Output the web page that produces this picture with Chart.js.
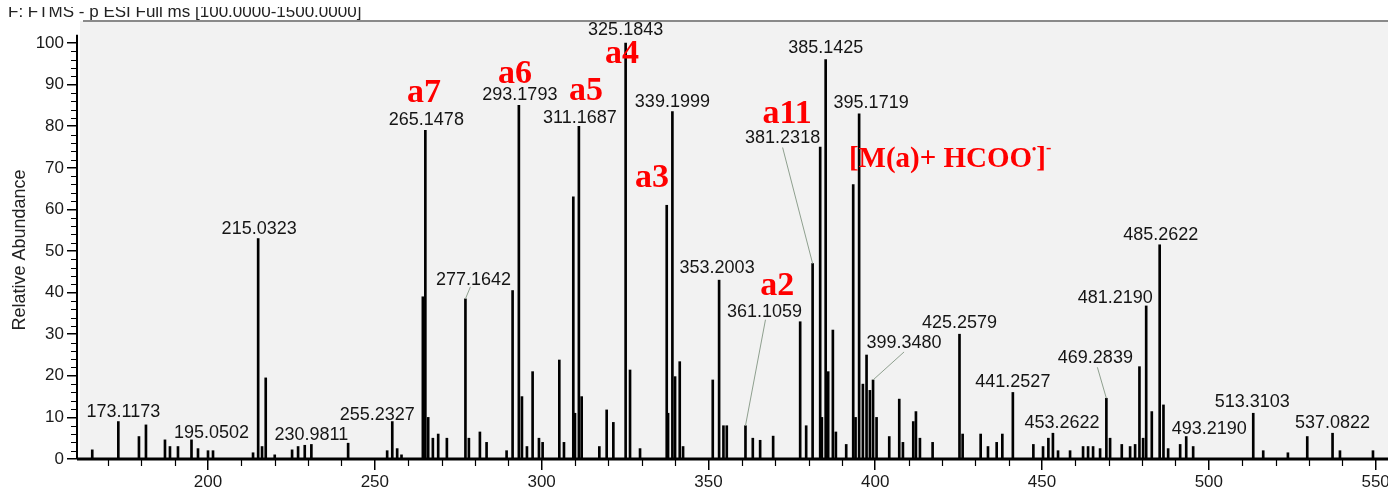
<!DOCTYPE html>
<html>
<head>
<meta charset="utf-8">
<script src="https://cdn.jsdelivr.net/npm/chart.js@4.4.0/dist/chart.umd.min.js"></script>
<style>
html, body { margin: 0; padding: 0; background: #fff; overflow: hidden; }
#wrap { width: 1400px; height: 491px; }
</style>
</head>
<body>
<div id="wrap"><canvas id="chart" width="1400" height="491"></canvas></div>
<script>
// m/z and relative abundance of every stick in the spectrum
const peakMz = [
  165.3, 173.1173, 179.3, 181.4, 187.1, 188.6, 191.0, 195.0502, 197.0, 200.0, 201.5, 213.5,
  215.0323, 216.2, 217.3, 220.0, 225.2, 227.0, 229.0, 230.9811, 242.0, 253.7, 255.2327, 256.7,
  258.0, 264.4, 265.1478, 266.0, 267.4, 269.0, 271.6, 277.1642, 278.2, 281.5, 283.5, 289.5,
  291.3, 293.1793, 294.1, 295.6, 297.3, 299.2, 300.3, 305.3, 306.7, 309.5, 310.0, 311.1687,
  312.0, 317.3, 319.5, 321.5, 325.1843, 326.5, 329.5, 337.5, 337.9, 339.1999, 340.0, 341.4,
  342.4, 351.3, 353.2003, 354.5, 355.5, 361.1059, 363.3, 365.5, 369.4, 377.5, 379.3, 381.2318,
  383.5, 384.0, 385.1425, 385.9, 387.3, 388.2, 391.3, 393.4, 394.1, 395.1719, 396.3, 397.4,
  398.4, 399.348, 400.4, 404.2, 407.2, 408.3, 411.4, 412.2, 413.4, 417.2, 425.2579, 426.2,
  431.6, 433.8, 436.4, 438.1, 441.2527, 447.4, 450.3, 451.9, 453.2622, 454.8, 458.4, 462.3,
  463.8, 465.3, 467.4, 469.2839, 470.4, 473.9, 476.4, 477.9, 479.2, 480.3, 481.219, 482.9,
  485.2622, 486.4, 487.8, 491.4, 493.219, 495.3, 513.3103, 516.3, 523.7, 529.5, 537.0822, 539.3,
  549.2
];
const peakInt = [
  2.2, 9, 5.4, 8.2, 4.6, 3, 3, 4.6, 2.5, 2, 2, 1.5,
  53, 3, 19.5, 1, 2.2, 3, 3.3, 3.5, 3.8, 2, 9, 2.5,
  1, 39, 79, 10, 5, 6, 5, 38.5, 5, 6.5, 4, 2,
  40.5, 85, 15, 3, 21, 5, 4, 23.8, 4, 63, 11, 80,
  15, 3, 11.8, 8.8, 100, 21.4, 2.5, 61, 11, 83.5, 19.8, 23.4,
  3, 19, 43, 8, 8, 8, 5, 4.5, 5.5, 33, 8, 47,
  75, 10, 96, 21, 31, 6.5, 3.5, 66, 10, 83, 18, 25,
  16.5, 19, 10, 5.4, 14.4, 4, 9, 11.4, 5, 4, 30, 6,
  6, 3, 4, 6, 16, 3.5, 3, 5, 6.2, 2, 2, 3,
  3, 3, 2.5, 14.6, 5, 3.5, 3, 3.5, 22.2, 5, 36.8, 11.4,
  51.5, 13, 2.5, 3.5, 5.4, 3, 11, 2, 1.5, 5.4, 6.2, 2,
  2
];

// peaks that carry an m/z label
const labelMz = [
  173.1173, 195.0502, 215.0323, 230.9811, 255.2327, 265.1478, 277.1642, 293.1793, 311.1687,
  325.1843, 339.1999, 353.2003, 361.1059, 381.2318, 385.1425, 395.1719, 399.348, 425.2579,
  441.2527, 453.2622, 469.2839, 481.219, 485.2622, 493.219, 513.3103, 537.0822
];

// axis ticks
const xTicks = [200, 250, 300, 350, 400, 450, 500, 550];
const yTicks = [0, 10, 20, 30, 40, 50, 60, 70, 80, 90, 100];

// fragment annotations (red), placed in m/z / abundance units
const annoText = ['a7', 'a6', 'a5', 'a4', 'a3', 'a11', 'a2'];
const annoMz = [264.75, 292.0, 313.3, 324.1, 333.1, 373.6, 370.6];
const annoInt = [85.8, 90.4, 86.3, 95.2, 65.4, 80.8, 39.4];

// label placement: [dx, dy] of text (center, baseline) from the peak top, optional leader start
const labelLayout = {
  173.1173: [5, -5], 195.0502: [20, -2], 215.0323: [1, -5], 230.9811: [0, -4],
  255.2327: [-15, -2], 265.1478: [1, -5], 277.1642: [8, -14, -3, 2], 293.1793: [1, -5],
  311.1687: [1, -3], 325.1843: [0, -8], 339.1999: [0, -5], 353.2003: [-2, -7],
  361.1059: [19, -109, 1, 3], 381.2318: [-30, -121, 0, 5], 385.1425: [0, -7],
  395.1719: [12, -6], 399.348: [31, -32, 0, 4], 425.2579: [0, -6], 441.2527: [0, -5],
  453.2622: [9, -5], 469.2839: [-11, -35, 2, 4], 481.219: [-31, -3], 485.2622: [1, -5],
  493.219: [23, -3], 513.3103: [-1, -6], 537.0822: [0, -5]
};

const SANS = '"Liberation Sans", Arial, sans-serif';
const SERIF = '"Liberation Serif", "Times New Roman", serif';

const decor = {
  id: 'decor',
  beforeDraw(chart) {
    const { ctx, chartArea: a } = chart;
    ctx.save();
    ctx.fillStyle = '#fff';
    ctx.fillRect(0, 0, chart.width, chart.height);
    ctx.fillStyle = '#f2f2f2';
    ctx.fillRect(a.left + 3, a.top, a.right - a.left, a.bottom - a.top);
    ctx.restore();
  },
  afterDraw(chart) {
    const { ctx, chartArea: a } = chart;
    const xs = chart.scales.x, ys = chart.scales.y;
    ctx.save();

    // frame line at top and run title
    ctx.strokeStyle = '#8a8a8a';
    ctx.lineWidth = 2;
    ctx.beginPath(); ctx.moveTo(83, a.top); ctx.lineTo(a.right, a.top); ctx.stroke();
    ctx.fillStyle = '#222';
    ctx.font = '17px ' + SANS;
    ctx.textAlign = 'left';
    ctx.fillText('F: FTMS - p ESI Full ms [100.0000-1500.0000]', 8, 17);
    ctx.fillStyle = '#fff';
    ctx.fillRect(0, 0, a.right, 7);

    // axes
    ctx.strokeStyle = '#000';
    ctx.lineWidth = 2;
    ctx.beginPath();
    ctx.moveTo(a.left, ys.getPixelForValue(102));
    ctx.lineTo(a.left, a.bottom);
    ctx.stroke();
    ctx.lineWidth = 3;
    ctx.beginPath(); ctx.moveTo(a.left, a.bottom); ctx.lineTo(a.right, a.bottom); ctx.stroke();

    // minor ticks
    ctx.lineWidth = 1.2;
    ctx.beginPath();
    for (let v = 2; v < 100; v += 2) {
      if (v % 10 === 0) continue;
      const py = Math.round(ys.getPixelForValue(v)) + 0.5;
      ctx.moveTo(a.left - 6, py); ctx.lineTo(a.left, py);
    }
    for (let v = 170; v < 560; v += 10) {
      if (v % 50 === 0) continue;
      const px = Math.round(xs.getPixelForValue(v)) + 0.5;
      ctx.moveTo(px, a.bottom); ctx.lineTo(px, a.bottom + 7);
    }
    ctx.stroke();

    // y title
    ctx.save();
    ctx.translate(20, 250);
    ctx.rotate(-Math.PI / 2);
    ctx.fillStyle = '#222';
    ctx.font = '18px ' + SANS;
    ctx.textAlign = 'center';
    ctx.textBaseline = 'middle';
    ctx.fillText('Relative Abundance', 0, 0);
    ctx.restore();

    // peak labels
    ctx.font = '18px ' + SANS;
    ctx.textAlign = 'center';
    ctx.textBaseline = 'alphabetic';
    labelMz.forEach(m => {
      const i = peakMz.indexOf(m);
      const px = xs.getPixelForValue(m);
      const top = ys.getPixelForValue(peakInt[i]);
      const L = labelLayout[m] || [0, -5];
      const tx = px + L[0], ty = top + L[1];
      ctx.fillStyle = '#151515';
      ctx.fillText(m.toFixed(4), tx, ty);
      if (L.length > 2) {
        ctx.strokeStyle = '#8fa08f';
        ctx.lineWidth = 1;
        ctx.beginPath();
        ctx.moveTo(tx + L[2], ty + L[3]);
        ctx.lineTo(px, top);
        ctx.stroke();
      }
    });

    // red fragment annotations
    ctx.fillStyle = '#ff0000';
    ctx.font = 'bold 34px ' + SERIF;
    ctx.textAlign = 'center';
    annoText.forEach((t, i) => {
      ctx.fillText(t, xs.getPixelForValue(annoMz[i]), ys.getPixelForValue(annoInt[i]));
    });

    // [M(a)+ HCOO•]- annotation
    let mx = xs.getPixelForValue(392.1);
    const my = ys.getPixelForValue(70.2);
    ctx.textAlign = 'left';
    const parts = [
      ['[M(a)+ HCOO', 'bold 29px ' + SERIF, 0],
      ['\u2022', 'bold 12px ' + SERIF, -14],
      [']', 'bold 29px ' + SERIF, 0],
      ['-', 'bold 16px ' + SERIF, -14]
    ];
    parts.forEach(([t, f, off]) => {
      ctx.font = f;
      ctx.fillText(t, mx, my + off);
      mx += ctx.measureText(t).width;
    });

    ctx.restore();
  }
};

const ctx = document.getElementById('chart').getContext('2d');
const myChart = new Chart(ctx, {
  type: 'bar',
  data: {
    datasets: [{
      data: peakMz.map((m, i) => ({ x: m, y: peakInt[i] })),
      backgroundColor: '#000',
      borderWidth: 0,
      barThickness: 2,
      grouped: false
    }]
  },
  options: {
    responsive: false,
    animation: false,
    devicePixelRatio: 1,
    layout: { padding: { top: 21, left: 0, right: 0, bottom: 0 } },
    plugins: { legend: { display: false }, tooltip: { enabled: false } },
    scales: {
      x: {
        type: 'linear',
        min: 160.73,
        max: 557.3,
        offset: false,
        grid: { display: true, drawOnChartArea: false, drawTicks: true, tickLength: 11, color: '#000', lineWidth: 1.5, offset: false },
        border: { display: false },
        ticks: { font: { family: SANS, size: 17 }, color: '#1a1a1a', padding: 2, maxRotation: 0, autoSkip: false },
        afterBuildTicks: s => { s.ticks = xTicks.map(v => ({ value: v })); },
        afterFit: s => { s.height = 32; }
      },
      y: {
        min: 0,
        max: 105.3,
        grid: { display: true, drawOnChartArea: false, drawTicks: true, tickLength: 10, color: '#000', lineWidth: 1.5 },
        border: { display: false },
        ticks: { font: { family: SANS, size: 17 }, color: '#1a1a1a', padding: 3 },
        afterBuildTicks: s => { s.ticks = yTicks.map(v => ({ value: v })); },
        afterFit: s => { s.width = 77; }
      }
    }
  },
  plugins: [decor]
});
</script>
</body>
</html>
